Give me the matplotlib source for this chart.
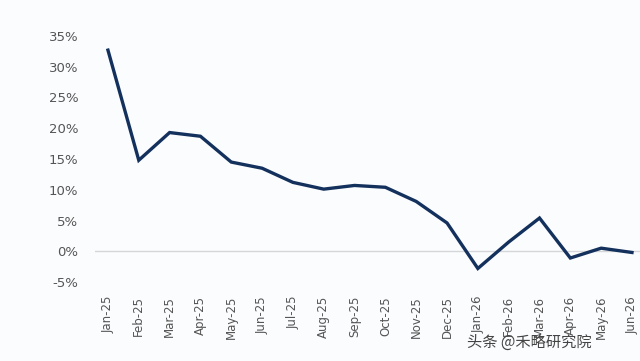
import numpy as np
import matplotlib.pyplot as plt

months = ["Jan-25", "Feb-25", "Mar-25", "Apr-25", "May-25", "Jun-25", "Jul-25", "Aug-25", "Sep-25",
          "Oct-25", "Nov-25", "Dec-25", "Jan-26", "Feb-26", "Mar-26", "Apr-26", "May-26", "Jun-26"]
values = [32.7, 14.8, 19.3, 18.7, 14.5, 13.5, 11.2, 10.1, 10.7,
          10.4, 8.1, 4.6, -2.8, 1.5, 5.4, -1.1, 0.5, -0.2]
yticks = [-5, 0, 5, 10, 15, 20, 25, 30, 35]

plt.rcParams['font.family'] = ['DejaVu Sans']
bg = '#fbfcfe'
fig = plt.figure(figsize=(6.4, 3.61), dpi=100, facecolor=bg)
ax = fig.add_axes([95/640, 1-282/361, 545/640, 246/361], facecolor=bg)

x = np.arange(len(months))
ax.axhline(0, color='#d4d6da', lw=1, zorder=1)
ax.plot(x, values, color='#13315c', lw=2.4, solid_joinstyle='miter', zorder=2)

ax.set_xlim(-0.42, 17.26)
ax.set_ylim(-5, 35)
ax.set_yticks(yticks)
ax.set_yticklabels([f"{v}%" for v in yticks], fontsize=9.5, color='#555555')
ax.set_xticks(x)
ax.set_xticklabels(months, rotation=90, fontsize=8.5, color='#555555')
ax.tick_params(length=0)
ax.tick_params(axis='y', pad=12)
ax.tick_params(axis='x', pad=10)
for s in ax.spines.values():
    s.set_visible(False)

fig.text(592/640, 1-342/361, "头条 @禾略研究院", ha='right', va='center', fontsize=11, color='#444444',
         family=['Noto Sans CJK SC', 'DejaVu Sans'])

fig.savefig('out.png', dpi=100, facecolor=bg)
